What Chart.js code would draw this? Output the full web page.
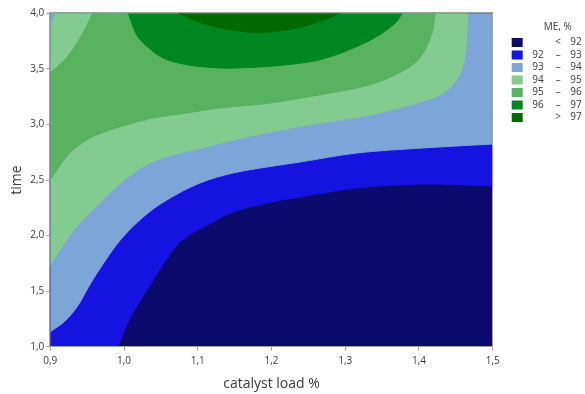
<!DOCTYPE html>
<html>
<head>
<meta charset="utf-8">
<script src="https://cdn.jsdelivr.net/npm/chart.js@4.4.1/dist/chart.umd.min.js"></script>
<style>
  html, body { margin: 0; padding: 0; background: #fff; }
  #wrap { width: 585px; height: 394px; }
</style>
</head>
<body>
<div id="wrap"><canvas id="contour"></canvas></div>
<script>
// contour lines, as [catalyst load %, time] pairs
const edgeBottom = [[0.9, 1.0], [1.5, 1.0]];
const edge92 = [[0.9, 0.9], [0.985, 0.9], [0.992, 1.0], [1.004, 1.2], [1.018, 1.37], [1.034, 1.54],
  [1.052, 1.73], [1.072, 1.915], [1.09, 2.01], [1.115, 2.1], [1.148, 2.212], [1.194, 2.293],
  [1.239, 2.347], [1.316, 2.428], [1.405, 2.464], [1.5, 2.446]];
const edge93 = [[0.9, 1.135], [0.92, 1.231], [0.938, 1.375], [0.951, 1.528], [0.967, 1.699], [0.995, 1.96],
  [1.026, 2.167], [1.058, 2.32], [1.103, 2.473], [1.148, 2.563], [1.194, 2.617], [1.239, 2.662],
  [1.316, 2.743], [1.405, 2.788], [1.5, 2.824]];
const edge94 = [[0.9, 1.735], [0.922, 1.96], [0.94, 2.113], [0.967, 2.293], [0.995, 2.47], [1.026, 2.62],
  [1.058, 2.71], [1.103, 2.785], [1.148, 2.86], [1.225, 2.965], [1.293, 3.04], [1.334, 3.085],
  [1.378, 3.157], [1.406, 3.211], [1.43, 3.27], [1.445, 3.35], [1.456, 3.46], [1.462, 3.6],
  [1.465, 3.8], [1.466, 4.0]];
const edge95 = [[0.9, 2.5], [0.922, 2.71], [0.949, 2.86], [0.981, 2.95], [1.012, 3.013], [1.039, 3.058],
  [1.085, 3.103], [1.13, 3.148], [1.198, 3.193], [1.266, 3.268], [1.334, 3.358], [1.378, 3.481],
  [1.401, 3.598], [1.417, 3.808], [1.422, 4.0]];
const cornerGreen = [[0.9, 3.475], [0.922, 3.61], [0.94, 3.79], [0.952, 3.94], [0.956, 4.0]];
const cornerBlue = [[0.9, 3.88], [0.906, 4.0]];
const edge96 = [[1.006, 4.0], [1.017, 3.808], [1.031, 3.703], [1.053, 3.598], [1.085, 3.538], [1.13, 3.508],
  [1.175, 3.514], [1.221, 3.538], [1.266, 3.583], [1.311, 3.688], [1.347, 3.808], [1.37, 3.928], [1.377, 4.0]];
const edge97 = [[1.074, 4.0], [1.099, 3.928], [1.13, 3.868], [1.166, 3.832], [1.198, 3.832], [1.234, 3.868],
  [1.266, 3.928], [1.293, 4.0]];

const levels = [92, 93, 94, 95, 96, 97];
const bandColors = ["#0d0a6e", "#1513e0", "#7ca5d8", "#83cb8f", "#58b25f", "#008722", "#006a00"];
const xTicks = [0.9, 1.0, 1.1, 1.2, 1.3, 1.4, 1.5];
const yTicks = [1.0, 1.5, 2.0, 2.5, 3.0, 3.5, 4.0];
const legendTitle = "ME, %";

// painted bottom to top, each fills from its line up to the top of the plot
const layers = [
  [edgeBottom, 0], [edge92, 1], [edge93, 2], [edge94, 3], [edge95, 4],
  [cornerGreen, 3], [cornerBlue, 2], [edge96, 5], [edge97, 6]
];

const textColor = "#3a3a3a";
const axisColor = "#a0a0a0";
const fontFamily = "'Open Sans', 'Noto Sans', sans-serif";
const comma = v => v.toFixed(1).replace(".", ",");

const datasets = layers.map(([pts, c], i) => ({
  data: pts.map(p => ({ x: p[0], y: p[1] })),
  showLine: true,
  fill: "end",
  backgroundColor: bandColors[c],
  borderColor: bandColors[c],
  borderWidth: 1,
  pointRadius: 0,
  tension: 0.35,
  clip: 0,
  order: layers.length - i
}));

// frame + legend
const extras = {
  id: "extras",
  afterDraw(chart) {
    const { ctx, chartArea: a } = chart;
    ctx.save();
    ctx.strokeStyle = axisColor;
    ctx.lineWidth = 1;
    ctx.strokeRect(Math.round(a.left) - 0.5, Math.round(a.top) - 0.5,
      Math.round(a.right - a.left) + 1, Math.round(a.bottom - a.top) + 1);

    ctx.font = "10px " + fontFamily;
    ctx.fillStyle = textColor;
    ctx.textBaseline = "middle";
    ctx.textAlign = "center";
    ctx.fillText(legendTitle, a.right + 65, 27);

    const rows = [["", "<", levels[0]]];
    for (let i = 0; i < levels.length - 1; i++) rows.push([levels[i], "–", levels[i + 1]]);
    rows.push(["", ">", levels[levels.length - 1]]);

    rows.forEach((r, i) => {
      const y = 42.5 + i * 12.5;
      ctx.fillStyle = bandColors[i];
      ctx.fillRect(a.right + 19, y - 4.5, 11, 9);
      ctx.fillStyle = textColor;
      ctx.textAlign = "right";
      ctx.fillText(String(r[0]), a.right + 51, y);
      ctx.fillText(String(r[2]), a.right + 89, y);
      ctx.textAlign = "center";
      ctx.fillText(r[1], a.right + 65.5, y);
    });
    ctx.restore();
  }
};

new Chart(document.getElementById("contour"), {
  type: "scatter",
  data: { datasets },
  options: {
    responsive: true,
    maintainAspectRatio: false,
    animation: false,
    events: [],
    layout: { padding: { left: 0, top: 13.3, right: 92.3, bottom: 0 } },
    plugins: { legend: { display: false }, tooltip: { enabled: false } },
    scales: {
      x: {
        type: "linear",
        min: 0.9,
        max: 1.5,
        afterBuildTicks: s => { s.ticks = xTicks.map(v => ({ value: v })); },
        afterFit: s => { s.height = 47.3; },
        ticks: { callback: comma, color: textColor, font: { size: 10, family: fontFamily }, padding: 4, maxRotation: 0 },
        grid: { drawOnChartArea: false, tickLength: 4, color: axisColor },
        border: { color: axisColor },
        title: { display: true, text: "catalyst load %", color: textColor, font: { size: 14, family: fontFamily }, padding: { top: 0, bottom: 2 } }
      },
      y: {
        type: "linear",
        min: 1,
        max: 4,
        afterBuildTicks: s => { s.ticks = yTicks.map(v => ({ value: v })); },
        afterFit: s => { s.width = 50.3; },
        ticks: { callback: comma, color: textColor, font: { size: 10, family: fontFamily }, padding: 2 },
        grid: { drawOnChartArea: false, tickLength: 4, color: axisColor },
        border: { color: axisColor },
        title: { display: true, text: "time", color: textColor, font: { size: 14, family: fontFamily }, padding: { top: 9, bottom: 0 } }
      }
    }
  },
  plugins: [extras]
});
</script>
</body>
</html>
